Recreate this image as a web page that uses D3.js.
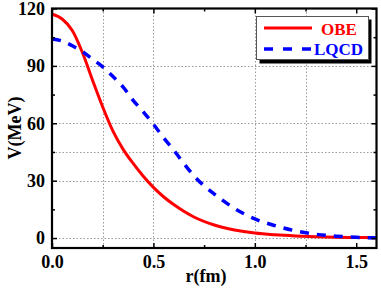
<!DOCTYPE html>
<html>
<head>
<meta charset="utf-8">
<script src="https://cdn.jsdelivr.net/npm/d3@7"></script>
<style>
    body { margin: 0; background: #fff; }
    svg text { font-family: "Liberation Serif", "Times New Roman", serif; font-weight: bold; font-style: normal; }
</style>
</head>
<body>
<div id="chart"></div>
<script>
// r in fm, potential in MeV
const obeR = [0, 0.05, 0.1, 0.15, 0.2, 0.25, 0.3, 0.35, 0.4, 0.45, 0.5, 0.55, 0.6, 0.65, 0.7, 0.8, 0.9, 1.0, 1.1, 1.2, 1.3, 1.4, 1.5, 1.6];
const obeV = [117, 114.5, 108.5, 97, 82.5, 68.5, 56, 46.5, 39, 32.3, 26.5, 21.6, 17.5, 14, 11, 6.8, 4.2, 2.6, 1.7, 1.1, 0.7, 0.45, 0.3, 0.2];

const lqcdR = [0, 0.05, 0.1, 0.15, 0.2, 0.25, 0.3, 0.35, 0.4, 0.45, 0.5, 0.55, 0.6, 0.65, 0.7, 0.75, 0.8, 0.9, 1.0, 1.1, 1.2, 1.3, 1.4, 1.5, 1.6];
const lqcdV = [104, 103, 100.5, 97.5, 93.5, 89.5, 84.5, 79, 72, 66, 59.5, 52.5, 46, 39, 32.5, 27.3, 23, 15.5, 10, 6.5, 3.8, 2, 1, 0.4, 0.1];

const xMajor = [0, 0.5, 1.0, 1.5];
const xMinor = [0.25, 0.75, 1.25];
const yMajor = [0, 30, 60, 90, 120];
const yMinor = [15, 45, 75, 105];
const xGrid = [0.25, 0.5, 1.0, 1.25];
const yGrid = [0, 30, 45, 60, 90];

const seriesNames = ["OBE", "LQCD"];
const seriesColors = ["#ff0000", "#0000ff"];

const width = 381, height = 288;
const plot = { left: 52, right: 376.5, top: 8.5, bottom: 248 };

const svg = d3.select("#chart").append("svg")
    .attr("width", width)
    .attr("height", height);

const x = d3.scaleLinear().domain([0, 1.6]).range([plot.left, plot.right]);
const y = d3.scaleLinear().domain([-5.2, 120]).range([plot.bottom, plot.top]);

// grid (dotted)
const grid = svg.append("g").attr("stroke", "#999").attr("stroke-width", 1).attr("stroke-dasharray", "1.5,2");
grid.selectAll("line.gx").data(xGrid).enter().append("line")
    .attr("x1", d => Math.round(x(d)) + 0.5).attr("x2", d => Math.round(x(d)) + 0.5)
    .attr("y1", plot.top).attr("y2", plot.bottom);
grid.selectAll("line.gy").data(yGrid).enter().append("line")
    .attr("y1", d => Math.round(y(d)) + 0.5).attr("y2", d => Math.round(y(d)) + 0.5)
    .attr("x1", plot.left).attr("x2", plot.right);

// curves
svg.append("clipPath").attr("id", "clip")
    .append("rect").attr("x", plot.left).attr("y", plot.top)
    .attr("width", plot.right - plot.left).attr("height", plot.bottom - plot.top);

const line = d3.line()
    .x(d => x(d[0]))
    .y(d => y(d[1]))
    .curve(d3.curveMonotoneX);

svg.append("path")
    .datum(obeR.map((r, i) => [r, obeV[i]]))
    .attr("clip-path", "url(#clip)")
    .attr("fill", "none")
    .attr("stroke", seriesColors[0])
    .attr("stroke-width", 3)
    .attr("d", line);

svg.append("path")
    .datum(lqcdR.map((r, i) => [r, lqcdV[i]]))
    .attr("clip-path", "url(#clip)")
    .attr("fill", "none")
    .attr("stroke", seriesColors[1])
    .attr("stroke-width", 3.5)
    .attr("stroke-dasharray", "9,8")
    .attr("d", line);

// axes, ticks inward on all sides
function styleAxis(g) {
    g.select(".domain").remove();
    g.selectAll(".tick line").attr("stroke", "#000").attr("stroke-width", 1.5);
    g.selectAll("text").attr("fill", "#000").attr("font-size", "18px")
        .attr("font-family", "'Liberation Serif', 'Times New Roman', serif").attr("font-weight", "bold");
}

svg.append("g").attr("transform", `translate(0,${plot.bottom})`)
    .call(d3.axisBottom(x).tickValues(xMajor).tickSize(-5).tickPadding(7).tickFormat(d3.format(".1f")))
    .call(styleAxis);
svg.append("g").attr("transform", `translate(0,${plot.bottom})`)
    .call(d3.axisBottom(x).tickValues(xMinor).tickSize(-3).tickFormat(""))
    .call(styleAxis);
svg.append("g").attr("transform", `translate(0,${plot.top})`)
    .call(d3.axisTop(x).tickValues(xMajor).tickSize(-5).tickFormat(""))
    .call(styleAxis);
svg.append("g").attr("transform", `translate(0,${plot.top})`)
    .call(d3.axisTop(x).tickValues(xMinor).tickSize(-3).tickFormat(""))
    .call(styleAxis);

svg.append("g").attr("transform", `translate(${plot.left},0)`)
    .call(d3.axisLeft(y).tickValues(yMajor).tickSize(-5).tickPadding(7))
    .call(styleAxis);
svg.append("g").attr("transform", `translate(${plot.left},0)`)
    .call(d3.axisLeft(y).tickValues(yMinor).tickSize(-3).tickFormat(""))
    .call(styleAxis);
svg.append("g").attr("transform", `translate(${plot.right},0)`)
    .call(d3.axisRight(y).tickValues(yMajor).tickSize(-5).tickFormat(""))
    .call(styleAxis);
svg.append("g").attr("transform", `translate(${plot.right},0)`)
    .call(d3.axisRight(y).tickValues(yMinor).tickSize(-3).tickFormat(""))
    .call(styleAxis);

// frame
svg.append("rect")
    .attr("x", plot.left).attr("y", plot.top)
    .attr("width", plot.right - plot.left).attr("height", plot.bottom - plot.top)
    .attr("fill", "none")
    .attr("stroke", "#000")
    .attr("stroke-width", 2.2);

// axis titles
svg.append("text")
    .attr("x", 206).attr("y", 282)
    .attr("text-anchor", "middle")
    .attr("font-size", "18px")
    .text("r(fm)");

svg.append("text")
    .attr("transform", "translate(21,128) rotate(-90)")
    .attr("text-anchor", "middle")
    .attr("font-size", "18px")
    .text("V(MeV)");

// legend
const lg = svg.append("g");
lg.append("rect").attr("x", 259.5).attr("y", 19.5).attr("width", 112).attr("height", 44).attr("fill", "#000");
lg.append("rect").attr("x", 256.5).attr("y", 16.5).attr("width", 112).attr("height", 43)
    .attr("fill", "#fff").attr("stroke", "#555").attr("stroke-width", 1);

lg.append("line").attr("x1", 264).attr("x2", 312).attr("y1", 28).attr("y2", 28)
    .attr("stroke", seriesColors[0]).attr("stroke-width", 3);
lg.append("line").attr("x1", 264).attr("x2", 312).attr("y1", 49).attr("y2", 49)
    .attr("stroke", seriesColors[1]).attr("stroke-width", 3.5).attr("stroke-dasharray", "9,10");

lg.append("text").attr("x", 321).attr("y", 34.5).attr("font-size", "17px")
    .attr("fill", seriesColors[0]).text(seriesNames[0]);
lg.append("text").attr("x", 314).attr("y", 55).attr("font-size", "17px")
    .attr("fill", seriesColors[1]).text(seriesNames[1]);
</script>
</body>
</html>
